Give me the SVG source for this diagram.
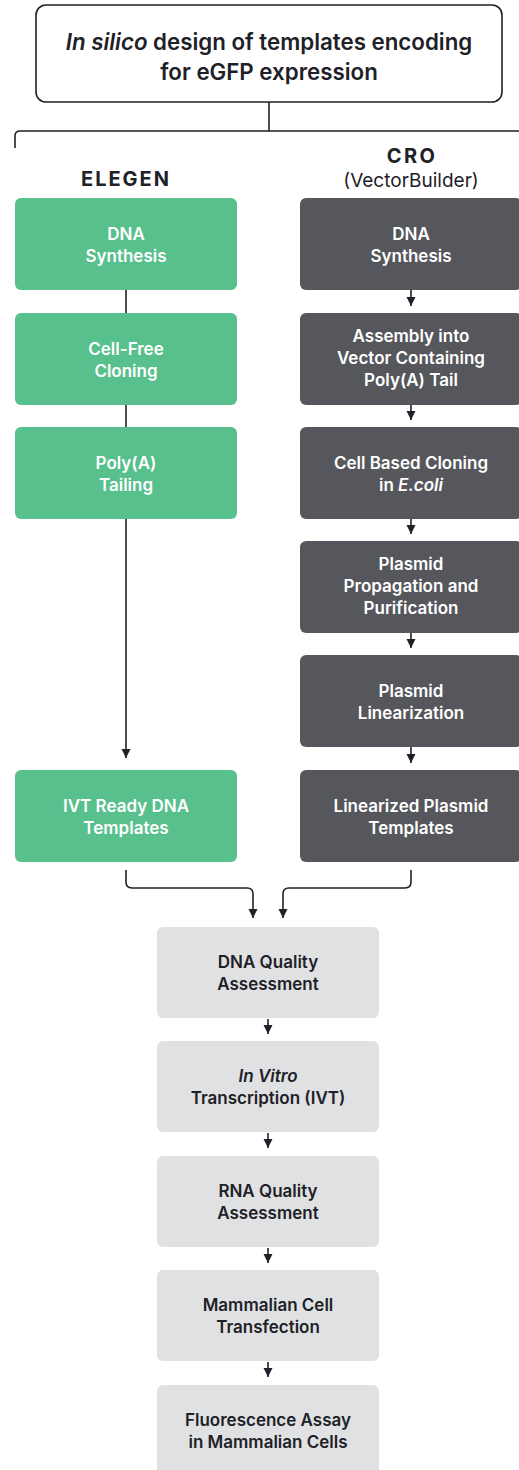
<svg xmlns="http://www.w3.org/2000/svg" width="519" height="1470" viewBox="0 0 519 1470">
<style>
.t{font-family:Inter,"Liberation Sans",sans-serif;font-weight:600;font-size:17px;text-anchor:middle}
.w{fill:#ffffff}
.k{fill:#1e2127}
.g{fill:#58c08d}
.d{fill:#56575c}
.l{fill:#e0e1e3}
.c{fill:none;stroke:#1e2127;stroke-width:1.6}
</style>
<defs>
<marker id="a" markerUnits="userSpaceOnUse" markerWidth="10" markerHeight="10" refX="9" refY="5" orient="auto">
<path d="M0,0.5 L9,5 L0,9.5 Z" fill="#1e2127"/>
</marker>
</defs>
<g id="connectors">
<path class="c" d="M269,102 V131"/>
<path class="c" d="M15,148 V136 Q15,131 20,131 H519"/>
<path class="c" d="M126,290 V758" marker-end="url(#a)"/>
<path class="c" d="M411,290 V306" marker-end="url(#a)"/>
<path class="c" d="M411,405 V420" marker-end="url(#a)"/>
<path class="c" d="M411,519 V534" marker-end="url(#a)"/>
<path class="c" d="M411,633 V648" marker-end="url(#a)"/>
<path class="c" d="M411,747 V763" marker-end="url(#a)"/>
<path class="c" d="M126,870 V882 Q126,888 132,888 H247 Q253,888 253,894 V918" marker-end="url(#a)"/>
<path class="c" d="M411,870 V882 Q411,888 405,888 H289 Q283,888 283,894 V918" marker-end="url(#a)"/>
<path class="c" d="M268,1019 V1034" marker-end="url(#a)"/>
<path class="c" d="M268,1133 V1148" marker-end="url(#a)"/>
<path class="c" d="M268,1248 V1263" marker-end="url(#a)"/>
<path class="c" d="M268,1362 V1377" marker-end="url(#a)"/>
</g>
<g id="title">
<rect x="36" y="5" width="466" height="97" rx="10" fill="#ffffff" stroke="#1e2127" stroke-width="1.6"/>
<text class="t k" x="269" y="50" style="font-size:22.3px"><tspan font-style="italic">In silico</tspan> design of templates encoding</text>
<text class="t k" x="269" y="80" style="font-size:22.3px">for eGFP expression</text>
</g>
<g id="label-elegen"><text class="t k" x="126" y="186" style="font-size:20px;font-weight:700;letter-spacing:2px">ELEGEN</text></g>
<g id="label-cro">
<text class="t k" x="412" y="163" style="font-size:20px;font-weight:700;letter-spacing:2.4px">CRO</text>
<text class="t k" x="411" y="187" style="font-size:19px;font-weight:400">(VectorBuilder)</text>
</g>
<g id="e1"><rect class="g" x="15" y="198" width="222" height="92" rx="6"/><text class="t w" x="126" y="240">DNA</text><text class="t w" x="126" y="262">Synthesis</text></g>
<g id="e2"><rect class="g" x="15" y="313" width="222" height="92" rx="6"/><text class="t w" x="126" y="355">Cell-Free</text><text class="t w" x="126" y="377">Cloning</text></g>
<g id="e3"><rect class="g" x="15" y="427" width="222" height="92" rx="6"/><text class="t w" x="126" y="469">Poly(A)</text><text class="t w" x="126" y="491">Tailing</text></g>
<g id="e4"><rect class="g" x="15" y="770" width="222" height="92" rx="6"/><text class="t w" x="126" y="812">IVT Ready DNA</text><text class="t w" x="126" y="834">Templates</text></g>
<g id="c1"><rect class="d" x="300" y="198" width="222" height="92" rx="6"/><text class="t w" x="411" y="240">DNA</text><text class="t w" x="411" y="262">Synthesis</text></g>
<g id="c2"><rect class="d" x="300" y="313" width="222" height="92" rx="6"/><text class="t w" x="411" y="342">Assembly into</text><text class="t w" x="411" y="364">Vector Containing</text><text class="t w" x="411" y="386">Poly(A) Tail</text></g>
<g id="c3"><rect class="d" x="300" y="427" width="222" height="92" rx="6"/><text class="t w" x="411" y="469">Cell Based Cloning</text><text class="t w" x="411" y="491">in <tspan font-style="italic">E.coli</tspan></text></g>
<g id="c4"><rect class="d" x="300" y="541" width="222" height="92" rx="6"/><text class="t w" x="411" y="570">Plasmid</text><text class="t w" x="411" y="592">Propagation and</text><text class="t w" x="411" y="614">Purification</text></g>
<g id="c5"><rect class="d" x="300" y="655" width="222" height="92" rx="6"/><text class="t w" x="411" y="697">Plasmid</text><text class="t w" x="411" y="719">Linearization</text></g>
<g id="c6"><rect class="d" x="300" y="770" width="222" height="92" rx="6"/><text class="t w" x="411" y="812">Linearized Plasmid</text><text class="t w" x="411" y="834">Templates</text></g>
<g id="s1"><rect class="l" x="157" y="927" width="222" height="91" rx="6"/><text class="t k" x="268" y="968">DNA Quality</text><text class="t k" x="268" y="990">Assessment</text></g>
<g id="s2"><rect class="l" x="157" y="1041" width="222" height="91" rx="6"/><text class="t k" x="268" y="1082" font-style="italic">In Vitro</text><text class="t k" x="268" y="1104">Transcription (IVT)</text></g>
<g id="s3"><rect class="l" x="157" y="1156" width="222" height="91" rx="6"/><text class="t k" x="268" y="1197">RNA Quality</text><text class="t k" x="268" y="1219">Assessment</text></g>
<g id="s4"><rect class="l" x="157" y="1270" width="222" height="91" rx="6"/><text class="t k" x="268" y="1311">Mammalian Cell</text><text class="t k" x="268" y="1333">Transfection</text></g>
<g id="s5"><rect class="l" x="157" y="1385" width="222" height="91" rx="6"/><text class="t k" x="268" y="1426">Fluorescence Assay</text><text class="t k" x="268" y="1448">in Mammalian Cells</text></g>
</svg>
